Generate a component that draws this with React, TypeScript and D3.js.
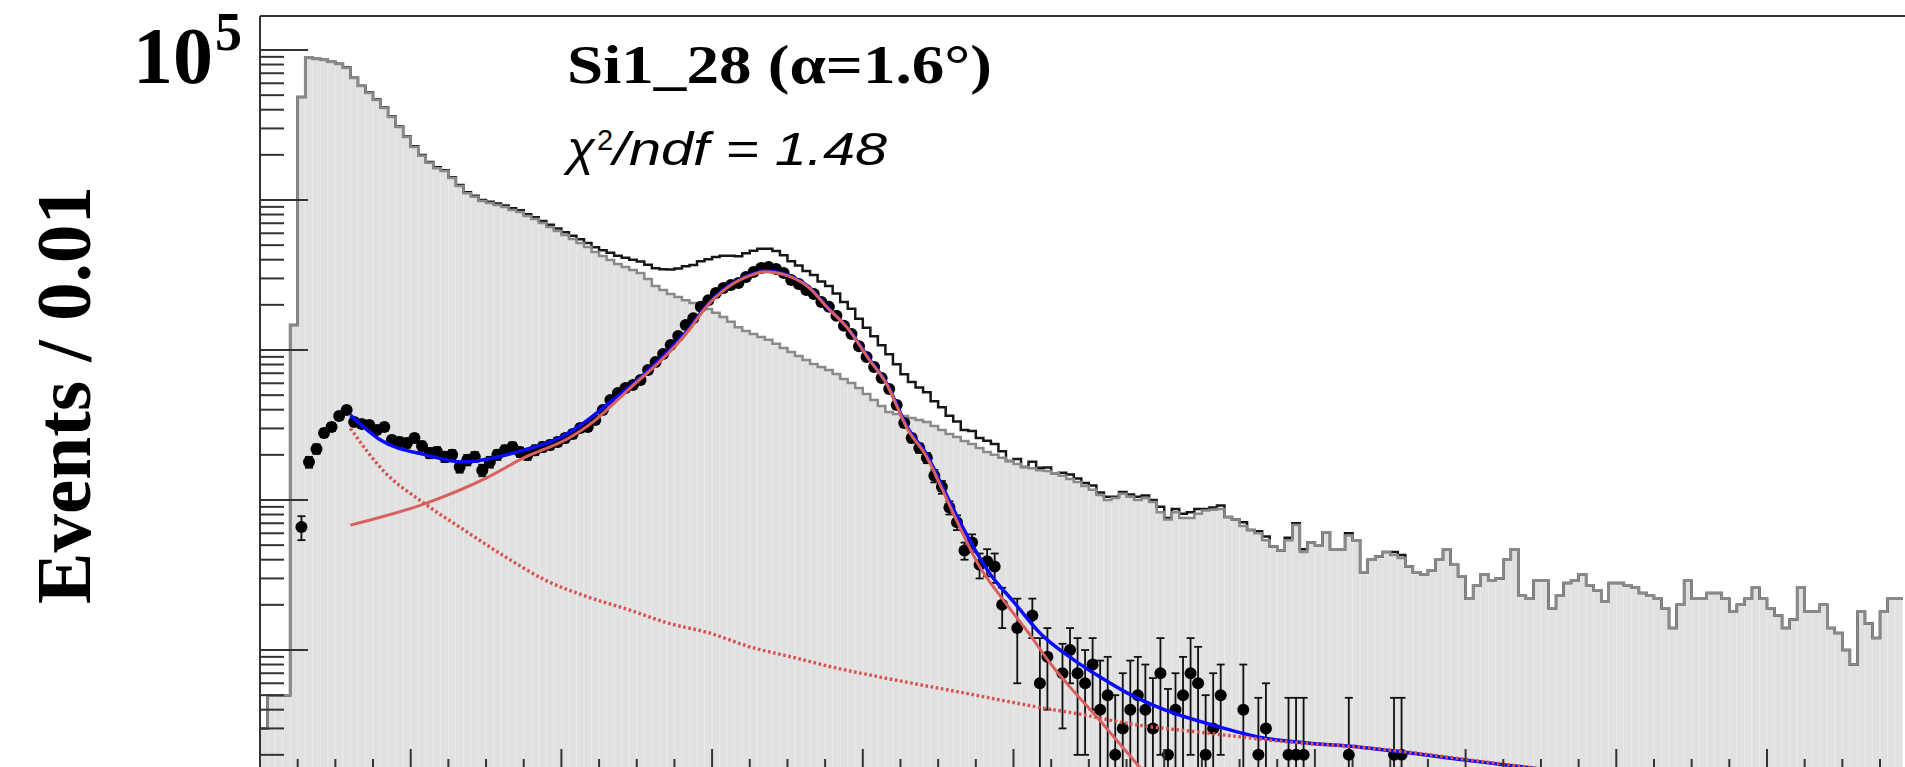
import React, { useEffect, useRef } from 'react';
import * as d3 from 'd3';

const W = 1905;
const H = 767;
const BIN_WIDTH = 0.01;

// background histogram (grey), one count per 0.01 bin starting at 0
const bkgCounts = [
  3, 5, 5, 5, 1470, 48600, 88500, 87100, 85800, 83200,
  80700, 75900, 65100, 57500, 51700, 46400, 41100, 35800, 30700, 26300,
  22600, 19700, 17700, 16300, 15600, 14000, 12400, 11100, 10500, 9850,
  9550, 9260, 8980, 8580, 8320, 7820, 7470, 7030, 6610, 6210,
  5840, 5500, 5170, 4860, 4500, 4230, 3980, 3740, 3570, 3410,
  3260, 2970, 2670, 2510, 2360, 2260, 2150, 2060, 1960, 1880,
  1770, 1660, 1540, 1420, 1340, 1280, 1220, 1170, 1100, 1030,
  970, 912, 858, 807, 771, 736, 692, 641, 603, 558,
  509, 464, 424, 386, 374, 363, 352, 341, 331, 311,
  293, 275, 263, 247, 236, 222, 209, 200, 191, 182,
  174, 166, 163, 158, 156, 151, 145, 138, 132, 124,
  117, 108, 100, 103, 110, 105, 100, 103, 97, 83,
  74, 83, 76, 76, 81, 85, 86, 87, 77, 74,
  67, 63, 60, 54, 49, 46, 54, 68, 45, 52,
  50, 61, 47, 47, 58, 54, 33, 40, 42, 45,
  43, 41, 36, 33, 32, 34, 40, 47, 37, 31,
  22, 27, 32, 29, 30, 40, 47, 23, 22, 29,
  29, 19, 23, 28, 29, 32, 27, 25, 21, 28,
  28, 27, 26, 24, 23, 22, 19, 14, 20, 29,
  22, 22, 24, 24, 22, 18, 20, 22, 26, 22,
  19, 17, 14, 16, 26, 18, 18, 20, 14, 13,
  10, 8, 18, 15, 12, 18, 22, 22,
];

// background-subtracted points (black markers), first entry is bin 5
const SIG_FIRST_BIN = 5;
const sigCounts = [
  66, 179, 219, 280, 307, 363, 398, 331, 321, 316,
  293, 307, 251, 244, 240, 259, 229, 206, 209, 194,
  200, 166, 185, 194, 158, 179, 200, 215, 226, 209,
  200, 215, 226, 233, 244, 259, 275, 302, 307, 341,
  398, 464, 517, 558, 584, 631, 736, 832, 940, 1080,
  1240, 1470, 1630, 1940, 2150, 2400, 2590, 2710, 2800, 3070,
  3310, 3520, 3570, 3470, 3260, 2930, 2750, 2510, 2360, 2090,
  1940, 1690, 1450, 1280, 1060, 898, 771, 651, 550, 430,
  326, 259, 222, 191, 145, 122, 89, 71, 46, 52,
  37, 39, 36, 20, null, 14, null, 17, 6, 9,
  null, 7, 10, 7, 6, 8, 4, 5, 2, 3,
  4, 5, 4, 3, 7, 2, 4, 5, 7, 6,
  2, 3, 5, null, null, 4, null, 2, 3, null,
  null, 2, 2, 2, null, null, null, null, null, 2,
  null, null, null, null, null, 2, 2,
];
const sigErrors = [
  12, 15, 16, 18, 18, 20, 21, 19, 19, 19,
  18, 18, 17, 17, 17, 17, 16, 16, 16, 15,
  15, 14, 15, 15, 14, 15, 15, 16, 16, 15,
  15, 16, 16, 16, 16, 17, 17, 18, 18, 19,
  21, 23, 24, 25, 26, 27, 29, 31, 33, 35,
  37, 40, 42, 46, 48, 50, 52, 54, 55, 57,
  59, 61, 61, 60, 58, 55, 54, 51, 50, 47,
  45, 42, 39, 36, 33, 31, 28, 26, 24, 21,
  19, 17, 16, 15, 14, 12, 9, 8, 6, 7,
  7, 8, 8, 6, 0, 8, 0, 5, 6, 5,
  0, 4, 4, 5, 4, 4, 4.5, 4, 3, 4,
  4.5, 4, 4, 3.5, 5, 3.5, 3, 4, 5, 4.5,
  3, 4, 3, 0, 0, 4, 0, 2.8, 3, 0,
  0, 2.8, 2.8, 2.8, 0, 0, 0, 0, 0, 2.8,
  0, 0, 0, 0, 0, 2.8, 2.8,
];

// total fit (blue)
const totalFitX = [0.12, 0.16, 0.22, 0.27, 0.31, 0.35, 0.40, 0.44, 0.46, 0.49, 0.53, 0.57, 0.59, 0.62, 0.65, 0.67, 0.70, 0.73, 0.75, 0.78, 0.81, 0.83, 0.86, 0.885, 0.905, 0.925, 0.97, 1.00, 1.035, 1.08, 1.115, 1.15, 1.20, 1.27, 1.33, 1.39, 1.46, 1.53, 1.58, 1.65, 1.75];
const totalFitY = [369, 251, 200, 179, 191, 215, 263, 357, 430, 566, 858, 1400, 1905, 2630, 3160, 3360, 3160, 2590, 2000, 1400, 850, 620, 300, 200, 125, 78, 31.6, 21, 13, 8.6, 6.6, 5.2, 4.0, 3.1, 2.6, 2.4, 2.25, 2.05, 1.9, 1.72, 1.5];

// peak component (red solid)
const peakFitX = [0.12, 0.22, 0.30, 0.35, 0.41, 0.445, 0.47, 0.50, 0.53, 0.57, 0.59, 0.62, 0.65, 0.67, 0.70, 0.73, 0.75, 0.78, 0.81, 0.83, 0.86, 0.885, 0.905, 0.925, 0.955, 0.985, 1.02, 1.05, 1.08, 1.11, 1.14, 1.17];
const peakFitY = [68, 95, 140, 191, 259, 341, 443, 610, 830, 1370, 1880, 2600, 3130, 3330, 3130, 2565, 1990, 1393, 842, 613, 293, 193, 119, 72, 36, 22, 13, 8, 5.3, 3.6, 2.4, 1.6];

// background component (red dotted)
const bkgFitX = [0.12, 0.163, 0.218, 0.271, 0.325, 0.38, 0.435, 0.49, 0.542, 0.596, 0.65, 0.705, 0.759, 0.823, 0.932, 1.04, 1.093, 1.148, 1.256, 1.364, 1.473, 1.636, 1.75];
const bkgFitY = [300, 158, 95, 63, 42, 29, 22.6, 18.5, 15.1, 13, 10.5, 9.0, 7.7, 6.6, 5.2, 4.1, 3.7, 3.26, 2.8, 2.44, 2.22, 1.77, 1.5];

const title = 'Si1_28 (\u03b1=1.6\u00b0)';
const chiLabel = '/ndf = 1.48';
const yAxisTitle = 'Events / 0.01';

const serif = '"Liberation Serif", "Times New Roman", serif';
const sans = '"Liberation Sans", Arial, sans-serif';

const App = () => {
  const svgRef = useRef<SVGSVGElement>(null);

  useEffect(() => {
    const svg = d3.select(svgRef.current);
    svg.selectAll('*').remove();

    const frame = { left: 260, top: 16, bottom: 769, right: 1960 };
    const x = d3.scaleLinear().domain([0, 2]).range([260, 1767]);
    const y = d3.scaleLog().domain([10, 1e5]).range([650, 50]);

    svg.append('defs').append('clipPath').attr('id', 'plotArea')
      .append('rect')
      .attr('x', frame.left).attr('y', frame.top)
      .attr('width', frame.right - frame.left).attr('height', frame.bottom - frame.top);

    const plot = svg.append('g').attr('clip-path', 'url(#plotArea)');
    const bw = x(BIN_WIDTH) - x(0);

    // grey filled background bins
    plot.append('g').selectAll('rect').data(bkgCounts).join('rect')
      .attr('x', (d, i) => x(i * BIN_WIDTH))
      .attr('width', bw)
      .attr('y', (d) => y(d))
      .attr('height', (d) => frame.bottom - y(d))
      .attr('fill', '#e1e1e1')
      .attr('stroke', '#ebebeb')
      .attr('stroke-width', 0.7);

    const totalCounts = bkgCounts.map((b, i) => {
      const s = sigCounts[i - SIG_FIRST_BIN];
      return b + (s == null ? 0 : s);
    });

    const step = d3.line<number>()
      .x((d, i) => x(i * BIN_WIDTH))
      .y((d) => y(d))
      .curve(d3.curveStepAfter);
    const stepPath = (arr: number[]) => step([...arr, arr[arr.length - 1]]);

    plot.append('path').attr('d', stepPath(totalCounts))
      .attr('fill', 'none').attr('stroke', '#161616').attr('stroke-width', 2.5);
    plot.append('path').attr('d', stepPath(bkgCounts))
      .attr('fill', 'none').attr('stroke', '#8a8a8a').attr('stroke-width', 2.5);

    // data points with error bars
    const pts = sigCounts
      .map((v, k) => ({ bin: k + SIG_FIRST_BIN, v, e: sigErrors[k] }))
      .filter((p) => p.v != null);
    const cx = (p) => x((p.bin + 0.5) * BIN_WIDTH);
    const lo = (p) => (p.v - p.e > 0 ? y(p.v - p.e) : frame.bottom + 20);
    const errs = plot.append('g').attr('stroke', '#111').attr('stroke-width', 1.8);
    errs.selectAll('line.bar').data(pts).join('line').attr('class', 'bar')
      .attr('x1', cx).attr('x2', cx)
      .attr('y1', (p) => y(p.v + p.e)).attr('y2', lo);
    errs.selectAll('line.capTop').data(pts).join('line').attr('class', 'capTop')
      .attr('x1', (p) => cx(p) - 4).attr('x2', (p) => cx(p) + 4)
      .attr('y1', (p) => y(p.v + p.e)).attr('y2', (p) => y(p.v + p.e));
    errs.selectAll('line.capBot').data(pts).join('line').attr('class', 'capBot')
      .attr('x1', (p) => cx(p) - 4).attr('x2', (p) => cx(p) + 4)
      .attr('y1', lo).attr('y2', lo);
    plot.append('g').selectAll('circle').data(pts).join('circle')
      .attr('cx', cx).attr('cy', (p) => y(p.v)).attr('r', 6).attr('fill', '#000');

    // fit curves
    const fitLine = d3.line<[number, number]>()
      .x((d) => x(d[0])).y((d) => y(d[1]))
      .curve(d3.curveMonotoneX);
    const zip = (xs: number[], ys: number[]) => xs.map((v, i) => [v, ys[i]] as [number, number]);

    plot.append('path').attr('d', fitLine(zip(totalFitX, totalFitY)))
      .attr('fill', 'none').attr('stroke', '#0a0aff').attr('stroke-width', 3.5);
    plot.append('path').attr('d', fitLine(zip(peakFitX, peakFitY)))
      .attr('fill', 'none').attr('stroke', '#d9605e').attr('stroke-width', 3);
    plot.append('path').attr('d', fitLine(zip(bkgFitX, bkgFitY)))
      .attr('fill', 'none').attr('stroke', '#d8524f').attr('stroke-width', 3.4)
      .attr('stroke-dasharray', '2.6 2.6');

    // frame
    const axes = svg.append('g').attr('stroke', '#333').attr('stroke-width', 2);
    axes.append('line').attr('x1', frame.left).attr('x2', W + 10)
      .attr('y1', frame.top).attr('y2', frame.top);
    axes.append('line').attr('x1', frame.left).attr('x2', frame.left)
      .attr('y1', frame.top).attr('y2', frame.bottom);

    // y ticks (log, inward)
    const yTicks: { v: number; major: boolean }[] = [];
    for (let e = 0; e <= 5; e++) {
      for (let m = 1; m <= 9; m++) {
        const v = m * Math.pow(10, e);
        const py = y(v);
        if (py > frame.top && py < frame.bottom) yTicks.push({ v, major: m === 1 });
      }
    }
    axes.selectAll('line.yt').data(yTicks).join('line').attr('class', 'yt')
      .attr('x1', frame.left).attr('x2', (d) => frame.left + (d.major ? 48 : 24))
      .attr('y1', (d) => y(d.v)).attr('y2', (d) => y(d.v));

    // x ticks (inward from the bottom axis)
    const xTicks = d3.range(1, 45).map((k) => ({ v: k * 0.05, major: k % 4 === 0 }))
      .filter((d) => x(d.v) < W);
    axes.selectAll('line.xt').data(xTicks).join('line').attr('class', 'xt')
      .attr('x1', (d) => x(d.v)).attr('x2', (d) => x(d.v))
      .attr('y1', frame.bottom).attr('y2', (d) => frame.bottom - (d.major ? 20 : 10));

    // texts
    svg.append('text').text('10').attr('x', 133).attr('y', 83)
      .attr('font-family', serif).attr('font-weight', 'bold').attr('font-size', 80);
    svg.append('text').text('5').attr('x', 215).attr('y', 50)
      .attr('font-family', serif).attr('font-weight', 'bold').attr('font-size', 54);

    svg.append('text').text(yAxisTitle)
      .attr('transform', 'translate(90,395) rotate(-90)')
      .attr('text-anchor', 'middle')
      .attr('font-family', serif).attr('font-weight', 'bold').attr('font-size', 79)
      .attr('textLength', 418).attr('lengthAdjust', 'spacingAndGlyphs');

    svg.append('text').text(title).attr('x', 567).attr('y', 83)
      .attr('font-family', serif).attr('font-weight', 'bold').attr('font-size', 55)
      .attr('textLength', 425).attr('lengthAdjust', 'spacingAndGlyphs');

    svg.append('text').text('\u03c7').attr('x', 567).attr('y', 165)
      .attr('font-family', sans).attr('font-style', 'italic').attr('font-size', 48)
      .attr('textLength', 28).attr('lengthAdjust', 'spacingAndGlyphs');
    svg.append('text').text('2').attr('x', 597).attr('y', 150)
      .attr('font-family', sans).attr('font-size', 29);
    svg.append('text').text(chiLabel).attr('x', 613).attr('y', 165)
      .attr('font-family', sans).attr('font-style', 'italic').attr('font-size', 46)
      .attr('textLength', 274).attr('lengthAdjust', 'spacingAndGlyphs');
  }, []);

  return (
    <div style={{ position: 'absolute', left: 0, top: 0, width: W, height: H, background: 'white' }}>
      <svg ref={svgRef} width={W} height={H} style={{ display: 'block' }} />
    </div>
  );
};

export default App;
